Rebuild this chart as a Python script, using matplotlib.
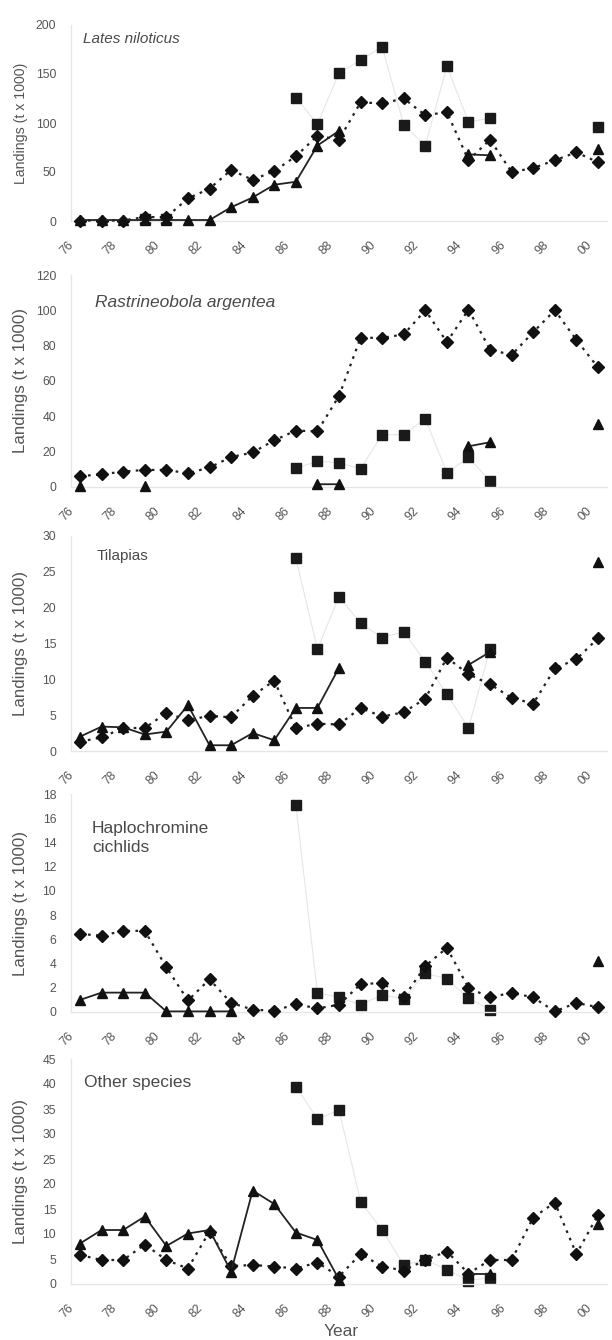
import numpy as np
import matplotlib
matplotlib.use("Agg")
import matplotlib.pyplot as plt

nan = np.nan
years = np.arange(1976, 2001)
tick_years = np.arange(1976, 2001, 2)
tick_labels = [f"{y % 100:02d}" for y in tick_years]

# Lates niloticus
lates_diamond = [0.5, 0.5, 0.5, 4, 4, 23, 33, 52, 42, 51, 66, 87, 83, 121, 120, 125,
                 108, 111, 62, 83, 50, 54, 62, 70, 60]
lates_square = [nan, nan, nan, 2, 2, nan, nan, nan, nan, nan, 126, 99, 151, 164, 178, 98,
                77, 158, 101, 105, nan, nan, nan, nan, 96]
lates_triangle = [1, 1, 1, 1, 1, 1, 1, 14, 24, 37, 40, 77, 92, nan, nan, nan,
                  nan, nan, 68, 67, nan, nan, nan, nan, 73]

# Rastrineobola argentea
rastri_diamond = [6, 7, 8.6, 9.5, 9.5, 7.6, 10.9, 16.8, 19.4, 26.3, 31.8, 31.4, 51.4, 84.4,
                  84.4, 86.3, 100, 82, 100.4, 77.7, 74.7, 87.6, 100, 83.2, 67.6]
rastri_square = [nan, nan, nan, nan, nan, nan, nan, nan, nan, nan, 10.5, 14.3, 13.7, 10.1,
                 29.5, 29.5, 38.5, 8, 16.6, 3.2, nan, nan, nan, nan, nan]
rastri_triangle = [0.5, nan, nan, 0.5, nan, nan, nan, nan, nan, nan, nan, 1.4, 1.4, nan,
                   nan, nan, nan, nan, 22.9, 25.2, nan, nan, nan, nan, 35.3]

# Tilapias
tilapia_diamond = [1.3, 1.9, 3.2, 3.2, 5.3, 4.3, 4.9, 4.7, 7.7, 9.8, 3.2, 3.8, 3.7, 6.0,
                   4.8, 5.4, 7.3, 13.0, 10.7, 9.3, 7.4, 6.6, 11.5, 12.8, 15.7]
tilapia_square = [nan, nan, nan, nan, nan, nan, nan, nan, nan, nan, 26.9, 14.2, 21.5, 17.8,
                  15.8, 16.6, 12.4, 7.9, 3.2, 14.2, nan, nan, nan, nan, nan]
tilapia_triangle = [2.0, 3.4, 3.3, 2.3, 2.7, 6.4, 0.8, 0.8, 2.5, 1.5, 6.0, 6.0, 11.6, nan,
                    nan, nan, nan, nan, 12.0, 13.8, nan, nan, nan, nan, 26.3]

# Haplochromine cichlids
haplo_diamond = [6.45, 6.3, 6.7, 6.7, 3.7, 0.95, 2.7, 0.75, 0.2, 0.1, 0.65, 0.3, 0.6, 2.3,
                 2.4, 1.2, 3.8, 5.3, 2.0, 1.2, 1.6, 1.2, 0.05, 0.75, 0.4]
haplo_square = [nan, nan, nan, nan, nan, nan, nan, nan, nan, nan, 17.1, 1.6, 1.2, 0.6,
                1.4, 1.1, 3.2, 2.75, 1.15, 0.2, nan, nan, nan, nan, nan]
haplo_triangle = [1.0, 1.6, 1.6, 1.6, 0.05, 0.05, 0.05, 0.05, nan, nan, nan, nan, nan, nan,
                  nan, nan, nan, nan, nan, nan, nan, nan, nan, nan, 4.2]

# Other species
other_diamond = [5.8, 4.8, 4.8, 7.9, 4.8, 3.1, 10.5, 3.6, 3.8, 3.5, 3.1, 4.3, 1.5, 6.0,
                 3.5, 2.7, 4.8, 6.5, 2.1, 4.8, 4.8, 13.3, 16.3, 6.0, 13.8]
other_square = [nan, nan, nan, nan, nan, nan, nan, nan, nan, nan, 39.5, 33, 34.8, 16.5,
                10.8, 3.8, 4.8, 2.9, 0.7, 1.3, nan, nan, nan, nan, nan]
other_triangle = [8.1, 10.8, 10.8, 13.5, 7.6, 10.1, 10.8, 2.5, 18.7, 16.0, 10.3, 8.8, 0.9,
                  nan, nan, nan, nan, nan, 2.0, 2.0, nan, nan, nan, nan, 12.1]

# title: (left px, centre px from top, font size); ylabel font size
panels = [
    dict(title="Lates niloticus", italic=True, ymax=200, step=50,
         d=lates_diamond, s=lates_square, t=lates_triangle, top=25, bottom=221,
         tpos=(83, 39), tsize=11, lsize=10.2),
    dict(title="Rastrineobola argentea", italic=True, ymax=120, step=20,
         d=rastri_diamond, s=rastri_square, t=rastri_triangle, top=275, bottom=486.7,
         tpos=(95, 303), tsize=12.5, lsize=12.2),
    dict(title="Tilapias", italic=False, ymax=30, step=5,
         d=tilapia_diamond, s=tilapia_square, t=tilapia_triangle, top=535.7, bottom=751,
         tpos=(97, 556), tsize=11, lsize=12.2),
    dict(title="Haplochromine\ncichlids", italic=False, ymax=18, step=2,
         d=haplo_diamond, s=haplo_square, t=haplo_triangle, top=794, bottom=1012,
         tpos=(92, 838), tsize=12.5, lsize=12.2),
    dict(title="Other species", italic=False, ymax=45, step=5,
         d=other_diamond, s=other_square, t=other_triangle, top=1059, bottom=1284,
         tpos=(84, 1083), tsize=12.5, lsize=12.2),
]

plt.rcParams["font.family"] = ["Liberation Sans", "DejaVu Sans"]
W, H = 612, 1340
fig = plt.figure(figsize=(W / 100, H / 100), dpi=100)
fig.patch.set_facecolor("white")

x0, x1 = 1975.6, 2000.4
left_px, right_px = 71.4, 606.6
text_gray = "#555555"
px = 72 / 100  # points per pixel

for p in panels:
    ax = fig.add_axes([left_px / W, 1 - p["bottom"] / H,
                       (right_px - left_px) / W, (p["bottom"] - p["top"]) / H])
    ax.set_xlim(x0, x1)
    ax.set_ylim(0, p["ymax"])

    ax.plot(years, p["s"], color="#e6e6e6", lw=0.8, marker="s", ms=6.8,
            mfc="#1a1a1a", mec="#1a1a1a", clip_on=False, zorder=2)
    ax.plot(years, p["d"], color="#222222", lw=1.6, ls=(0, (1.2, 2.4)), marker="D", ms=6,
            mfc="#111111", mec="#111111", clip_on=False, zorder=3)
    ax.plot(years, p["t"], color="#222222", lw=1.3, ls="-", marker="^", ms=6.8,
            mfc="#111111", mec="#111111", clip_on=False, zorder=4)

    yt = np.arange(0, p["ymax"] + 0.1, p["step"])
    ax.set_yticks(yt)
    ax.set_yticklabels([f"{v:g}" for v in yt])
    ax.set_xticks(tick_years)
    ax.set_xticklabels([])
    ax.tick_params(axis="both", length=0, labelsize=8.7, labelcolor=text_gray)
    ax.tick_params(axis="y", pad=11)

    # rotated year labels, set below and to the left of each tick
    for yr, lab in zip(tick_years, tick_labels):
        ax.annotate(lab, xy=(yr, 0), xycoords=("data", "axes fraction"),
                    xytext=(-13 * px, -27 * px), textcoords="offset points",
                    rotation=45, ha="center", va="center", rotation_mode="anchor",
                    fontsize=8.7, color=text_gray, annotation_clip=False)

    for side in ("top", "right"):
        ax.spines[side].set_visible(False)
    for side in ("left", "bottom"):
        ax.spines[side].set_color("#e6e6e6")
        ax.spines[side].set_linewidth(1.0)

    fig.text(21 / W, 1 - (p["top"] + p["bottom"]) / 2 / H, "Landings (t x 1000)",
             rotation=90, ha="center", va="center", fontsize=p["lsize"], color=text_gray)

    fig.text(p["tpos"][0] / W, 1 - p["tpos"][1] / H, p["title"], ha="left", va="center",
             fontsize=p["tsize"], color="#4a4a4a",
             style="italic" if p["italic"] else "normal", linespacing=1.25)

fig.text(341 / W, 1 - 1332 / H, "Year", ha="center", va="center", fontsize=12.5,
         color=text_gray)

fig.savefig("out.png", dpi=100, facecolor="white")
